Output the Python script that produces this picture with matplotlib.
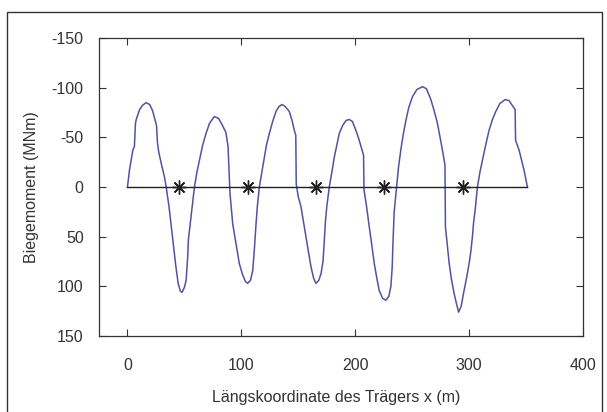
import matplotlib
matplotlib.use("Agg")
import matplotlib.pyplot as plt
from matplotlib.patches import Rectangle

plt.rcParams['font.family'] = ['Liberation Sans', 'DejaVu Sans']
plt.rcParams['axes.unicode_minus'] = False

# Biegemoment entlang des Traegers (x in m, M in MNm)
x_m = [0, 1.75, 4.7, 6.1, 7.0, 7.6, 10.5, 13, 16.4, 19.5, 22, 24.5, 25.5, 26.3, 27.5,
       30, 32.5, 34, 36.5, 38.5, 40.5, 42.5, 44.5, 46.5, 48, 50, 51.5, 52.9, 53.5,
       55.8, 58.8, 61, 63.2, 66, 69, 72, 76.3, 80, 83, 86.4, 88, 88.3,
       90, 92.4, 95, 98.2, 101, 103.5, 105.5, 108, 110, 111.4, 112.9, 114, 115.8,
       118, 120.2, 122, 124.6, 127.5, 130.4, 133, 135.7, 138.5, 142.1, 144.5, 146.5,
       147.8, 148.2, 150, 152.4, 156.7, 161.1, 163.5, 165.5, 168, 170, 171.7, 172.8,
       173.8, 175, 177.2, 179.5, 181.6, 184, 186, 189, 192, 194.7, 197.5, 200.6, 203,
       205, 207.3, 207.7, 210, 212.3, 214.5, 216.7, 219, 221, 224, 226.9, 229.5, 231.3,
       232.5, 233, 233.5, 234.2, 236.3, 238, 240, 242, 244.5, 247, 250.3, 254, 259,
       262.5, 266.4, 269, 272.2, 274.5, 276.6, 278.8, 279.2, 280.5, 282.5, 284.5, 286.8,
       289, 290.8, 293, 295.6, 298, 300, 301.5, 302.9, 304, 305.3, 307.3, 309.5, 311.7,
       314.5, 317.5, 320.5, 323.4, 327, 331.6, 335, 338, 340.4, 340.8, 343.9, 346,
       348.2, 351.2]
moment = [0, -17, -37, -41, -64, -67.5, -77.5, -82, -85, -83, -77, -66, -62, -45, -35,
          -22, -10, 0, 20, 40, 60, 80, 97, 105, 106, 101, 94, 70, 53,
          30, 0, -15, -27, -42, -54, -64, -71, -69, -63, -55, -43, -41,
          6, 37, 55, 77, 88, 95, 97, 94, 84, 63, 37, 20, 0,
          -15, -30, -42, -54, -66, -76, -81, -83, -81, -76, -67, -57,
          -52, -3, 10, 20, 50, 80, 92, 97, 94, 87, 75, 55,
          35, 20, 0, -15, -30, -43, -54, -62, -67, -68, -66, -57, -49,
          -41, -32, 3, 20, 40, 58, 77, 92, 104, 112, 114, 110, 100,
          80, 60, 45, 25, 0, -20, -37, -52, -67, -80, -91, -98, -101,
          -99, -88, -78, -64, -50, -37, -22, 40, 55, 77, 93, 107,
          118, 126, 120, 104, 90, 77, 65, 50, 35, 23, 0, -15, -27,
          -42, -57, -68, -76, -84, -88, -87, -82, -78, -47, -37, -27,
          -17, 0]

beam_x = [0, 351.2]
beam_y = [0, 0]
support_x = [45.5, 105.5, 165.5, 225.5, 295]
support_y = [0, 0, 0, 0, 0]

fig = plt.figure(figsize=(6.07, 4.12), dpi=100)
ax = fig.add_axes([99 / 607, 1 - 336 / 412, 484 / 607, 298 / 412])

ax.plot(x_m, moment, color='#5252a0', lw=1.1)
ax.plot(beam_x, beam_y, color='#222222', lw=1.0)
ax.plot(support_x, support_y, ls='none', marker=(8, 2, 0), ms=10, mew=1.0,
        color='#222222')

ax.set_xlim(-25, 400)
ax.set_ylim(150, -150)
ax.set_xticks([0, 100, 200, 300, 400])
ax.set_yticks([-150, -100, -50, 0, 50, 100, 150])
ax.tick_params(direction='in', length=5, width=0.8, top=True, right=True,
               labelsize=11.5, colors='#333333')
ax.tick_params(axis='x', pad=16)
ax.tick_params(axis='y', pad=11)
for s in ax.spines.values():
    s.set_color('#333333')
    s.set_linewidth(0.9)

ax.set_xlabel('Längskoordinate des Trägers x (m)', fontsize=11.5, color='#333333')
ax.set_ylabel('Biegemoment (MNm)', fontsize=11.5, color='#333333')
ax.xaxis.set_label_coords(0.49, -0.181)
ax.yaxis.set_label_coords(-0.124, 0.5)

# Rahmen um die ganze Grafik
fig.patches.append(Rectangle((7 / 607, -0.01), 595 / 607, 1 - 12 / 412 + 0.01,
                             transform=fig.transFigure, fill=False,
                             edgecolor='#333333', lw=1.0))

fig.savefig('out.png', dpi=100)
